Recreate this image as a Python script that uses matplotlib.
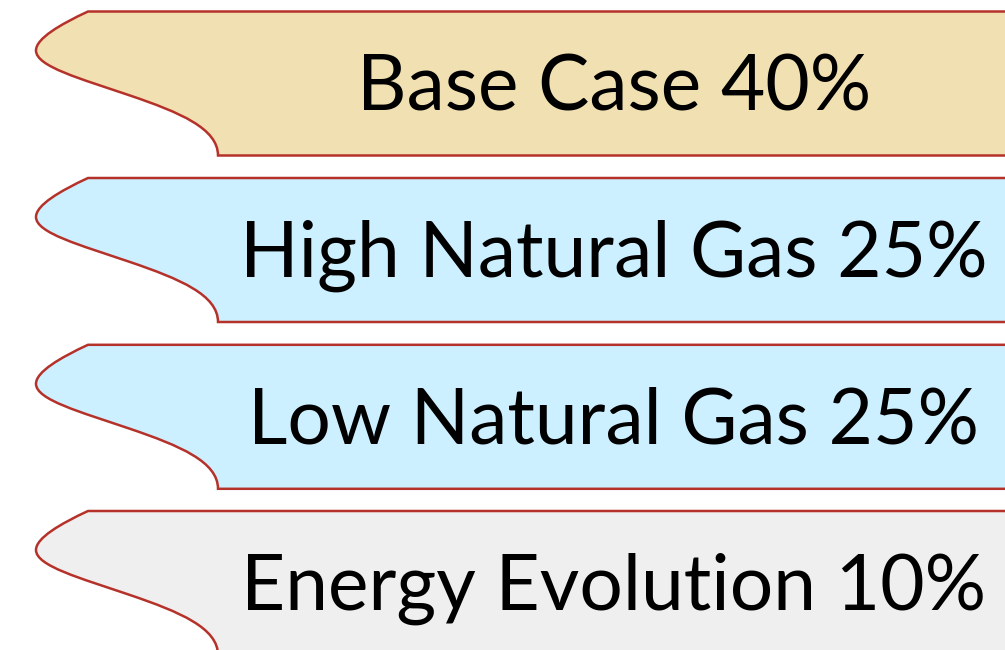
import matplotlib
matplotlib.use("Agg")
from matplotlib import pyplot as plt
from matplotlib.path import Path
from matplotlib.patches import PathPatch

# scenario bands, top to bottom
labels = ["Base Case 40%", "High Natural Gas 25%", "Low Natural Gas 25%", "Energy Evolution 10%"]
band_tops = [11.5, 178.0, 344.8, 511.0]
fills = ["#F1E0B1", "#CCF0FF", "#CCF0FF", "#EFEFEF"]

EDGE = "#B5322A"
HEIGHT = 144
W, H = 1005, 650


def band_path(top):
    # wavy left edge, straight top/bottom running off the right side
    verts = [
        (88, 0),
        (60, 13), (36, 27), (36, 39),
        (36, 55), (80, 67), (130, 84),
        (180, 101), (218, 117), (218, HEIGHT),
        (1100, HEIGHT),
        (1100, 0),
        (88, 0),
    ]
    codes = [Path.MOVETO,
             Path.CURVE4, Path.CURVE4, Path.CURVE4,
             Path.CURVE4, Path.CURVE4, Path.CURVE4,
             Path.CURVE4, Path.CURVE4, Path.CURVE4,
             Path.LINETO, Path.LINETO, Path.CLOSEPOLY]
    verts = [(x, y + top) for x, y in verts]
    return Path(verts, codes)


fig = plt.figure(figsize=(W / 100, H / 100), dpi=100)
ax = fig.add_axes([0, 0, 1, 1])
ax.set_xlim(0, W)
ax.set_ylim(H, 0)
ax.axis("off")

for label, top, color in zip(labels, band_tops, fills):
    ax.add_patch(PathPatch(band_path(top), facecolor=color, edgecolor=EDGE, lw=1.8))
    ax.text(614, top + 99, label, ha="center", va="baseline",
            fontsize=55.3, family="Lato", color="black")

fig.savefig("out.png", dpi=100)
